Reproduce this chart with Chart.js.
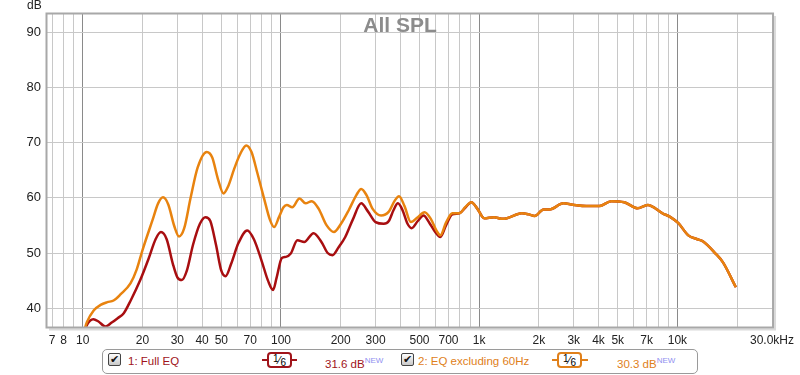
<!DOCTYPE html>
<html><head><meta charset="utf-8">
<script src="https://cdn.jsdelivr.net/npm/chart.js@4.4.1/dist/chart.umd.min.js"></script>
<style>
html,body{margin:0;padding:0;background:#fff;}
#wrap{position:relative;width:800px;height:375px;overflow:hidden;font-family:"Liberation Sans",Arial,sans-serif;}
canvas{position:absolute;left:0;top:0;}
#title{position:absolute;left:0;width:800px;top:12px;text-align:center;font-weight:bold;font-size:21px;color:#8c8c8c;line-height:26px;}
#legend{position:absolute;left:102px;top:349px;width:594px;height:23px;border:1px solid #9a9a9a;border-radius:5px;background:#fff;}
.t{position:absolute;top:354px;height:14px;line-height:14px;font-size:11.5px;white-space:nowrap;}
.cb{position:absolute;top:353px;width:11px;height:11px;border:1px solid #444;border-radius:2px;background:linear-gradient(#fdfdfd,#c8c8c8);font-size:11px;line-height:11px;text-align:center;color:#111;font-family:"DejaVu Sans",sans-serif;font-weight:bold;}
.ln{position:absolute;top:359px;height:2px;}
.sm{position:absolute;top:352px;width:21px;height:12px;border:2px solid;border-radius:4px;background:#fff;font-size:11px;line-height:12px;text-align:center;color:#000;font-family:"Liberation Sans",Arial,sans-serif;white-space:nowrap;}
.sm .a{position:relative;top:-2px;font-size:10px;}
.sm .b{position:relative;top:2px;font-size:10px;}
sup.n{font-size:8px;color:#8f8ff0;vertical-align:5px;}
</style></head>
<body><div id="wrap">
<canvas id="c" width="800" height="375"></canvas>
<div id="title">All SPL</div>
<div id="legend"></div>
<div class="cb" style="left:108px">✔</div>
<div class="t" style="left:128px;color:#a0141a">1: Full EQ</div>
<div class="ln" style="left:262px;width:35px;background:#a0141a"></div>
<div class="sm" style="left:267px;border-color:#a0141a"><span class="a">1</span>⁄<span class="b">6</span></div>
<div class="t" style="left:325px;color:#a0141a">31.6 dB<sup class="n">NEW</sup></div>
<div class="cb" style="left:401px">✔</div>
<div class="t" style="left:418px;color:#e0801a">2: EQ excluding 60Hz</div>
<div class="ln" style="left:552px;width:36px;background:#e0801a"></div>
<div class="sm" style="left:557px;border-color:#e0801a"><span class="a">1</span>⁄<span class="b">6</span></div>
<div class="t" style="left:617px;color:#e0801a">30.3 dB<sup class="n">NEW</sup></div>
</div>
<script>
// Series 1: Full EQ (low-frequency part)
const redFreq = [10.0,10.5,11.3,12.0,13.0,14.0,15.0,16.1,17.5,19.5,21.5,23.3,24.8,26.5,28.5,30.0,31.6,33.5,36,39,41.6,44,47,50,52.5,56,61,67.6,73,80,86,91.2,95,101,106,112,121,131,146,160,172,182,195,211,230,254,275,300,330,350,370,389,410,435,456,490,524,560,600,637,680,732,795,850];
const redDb   = [35.0,37.0,38.0,37.6,36.7,37.4,38.2,39.1,41.5,45.1,49.0,52.5,53.8,52.5,48.0,45.6,45.1,46.8,51.5,55.3,56.5,55.8,51.5,46.8,45.8,48.0,51.8,54.1,52.5,48.5,45.0,43.3,45.5,49.1,49.3,49.9,52.3,52.0,53.6,52.0,50.0,49.6,51.0,52.9,56.0,59.0,57.5,55.6,55.3,55.8,57.8,59.0,57.8,55.3,54.5,55.8,56.8,55.5,53.8,52.9,55.0,57.0,57.2,58.2];
// Series 2: EQ excluding 60Hz (low-frequency part)
const orangeFreq = [10.0,10.5,11.35,12.3,13.3,14.3,15.5,17.4,18.7,20,22.5,24,25.4,27,29,30.6,32.5,35,38,42.2,45,48,51.3,54,58,62,66.8,71,76,82,88,92.3,97.7,103,107,114,124,133,143,155,170,185,200,220,240,254,270,290,320,350,375,394,420,452,490,530,570,610,637,680,732,795,850];
const orangeDb   = [35.0,37.5,39.6,40.6,41.1,41.4,42.5,44.5,47.0,50.5,56.0,59.0,60.1,58.8,54.8,53.0,54.5,60.0,65.5,68.3,67.3,63.5,60.8,62.0,65.2,67.8,69.5,68.3,64.5,60.0,56.0,54.7,56.5,58.3,58.7,58.3,59.9,59.0,59.4,58.0,55.0,53.8,55.2,57.8,60.5,61.6,60.5,58.0,56.8,57.5,59.5,60.3,58.5,55.6,56.5,57.4,56.2,54.0,53.2,55.5,57.2,57.2,58.3];
// Shared high-frequency part (curves coincide)
const tailFreq = [913,980,1059,1189,1300,1380,1640,1780,1905,2113,2265,2661,3020,3467,4036,4640,5395,6310,7079,8414,9226,10116,11350,12590,13490,15490,16980,19720];
const tailDb   = [59.2,58.0,56.3,56.5,56.2,56.3,57.2,57.0,56.7,57.9,57.9,59.0,58.7,58.5,58.5,59.4,59.2,58.1,58.7,57.2,56.5,55.4,53.2,52.5,52.1,50.0,48.3,43.8];
// Axis ticks
const xTickValues = [7,8,9,10,20,30,40,50,60,70,80,90,100,200,300,400,500,600,700,800,900,1000,2000,3000,4000,5000,6000,7000,8000,9000,10000,20000,30000];
const xTickLabels = ['7','8','','10','20','30','40','50','','70','','','100','200','300','','500','','700','','','1k','2k','3k','4k','5k','','7k','','','10k','','30.0kHz'];
const yTickValues = [40,50,60,70,80,90];
const xMin = 6.6, xMax = 30200, yMin = 36.6, yMax = 93.3;

function pts(f, d){ return f.map((v,i)=>({x:v,y:d[i]})); }
const redData = pts(redFreq.concat(tailFreq), redDb.concat(tailDb));
const orangeData = pts(orangeFreq.concat(tailFreq), orangeDb.concat(tailDb));

const frame = {
  id:'frame',
  afterDraw(chart){
    const {ctx, chartArea:a} = chart;
    ctx.save();
    ctx.strokeStyle = '#dadada'; ctx.lineWidth = 2;
    ctx.beginPath();
    ctx.moveTo(a.right+2.5, a.top+2); ctx.lineTo(a.right+2.5, a.bottom+2.5); ctx.lineTo(a.left+2, a.bottom+2.5);
    ctx.stroke();
    ctx.strokeStyle = '#a8a8a8'; ctx.lineWidth = 2;
    ctx.strokeRect(a.left-0.5, a.top-0.5, a.right-a.left+1, a.bottom-a.top+1);
    ctx.restore();
  }
};

new Chart(document.getElementById('c'), {
  type:'line',
  data:{datasets:[
    {label:'2: EQ excluding 60Hz', data:orangeData, borderColor:'#e8830f', borderWidth:2.5, pointRadius:0, cubicInterpolationMode:'monotone', order:0},
    {label:'1: Full EQ', data:redData, borderColor:'#a80e10', borderWidth:2.5, pointRadius:0, cubicInterpolationMode:'monotone', order:1}
  ]},
  options:{
    responsive:false, animation:false, devicePixelRatio:1,
    layout:{padding:{top:14,right:22,left:0,bottom:0}},
    plugins:{legend:{display:false}, tooltip:{enabled:false}},
    scales:{
      x:{type:'logarithmic', min:xMin, max:xMax,
        afterBuildTicks(s){ s.ticks = xTickValues.map(v=>({value:v})); },
        afterFit(s){ s.height = 48; },
        border:{display:false},
        grid:{drawTicks:false, lineWidth:1,
          color(c){ const v=c.tick&&c.tick.value; if(v===30000) return 'rgba(0,0,0,0)'; return [10,100,1000,10000].includes(v)?'#8a8a8a':'#c8c8c8'; }},
        ticks:{autoSkip:false, maxRotation:0, minRotation:0, padding:6, color:'#222',
          font:{family:'"Liberation Sans", Arial, sans-serif', size:12},
          callback(v, i){ const k = xTickValues.indexOf(v); return k>=0 ? xTickLabels[k] : ''; }}
      },
      y:{type:'linear', min:yMin, max:yMax,
        afterBuildTicks(s){ s.ticks = yTickValues.map(v=>({value:v})); },
        afterFit(s){ s.width = 47; },
        border:{display:false},
        grid:{drawTicks:false, color:'#c8c8c8', lineWidth:1},
        ticks:{padding:6, color:'#222', font:{family:'"Liberation Sans", Arial, sans-serif', size:13}}
      }
    }
  },
  plugins:[frame, {
    id:'dbLabel',
    afterDraw(chart){
      const ctx = chart.ctx; ctx.save();
      ctx.fillStyle='#222'; ctx.font='12px "Liberation Sans", Arial, sans-serif';
      ctx.textAlign='left'; ctx.textBaseline='middle';
      ctx.fillText('dB', 27, 6);
      ctx.restore();
    }
  }]
});
</script>
</body></html>
